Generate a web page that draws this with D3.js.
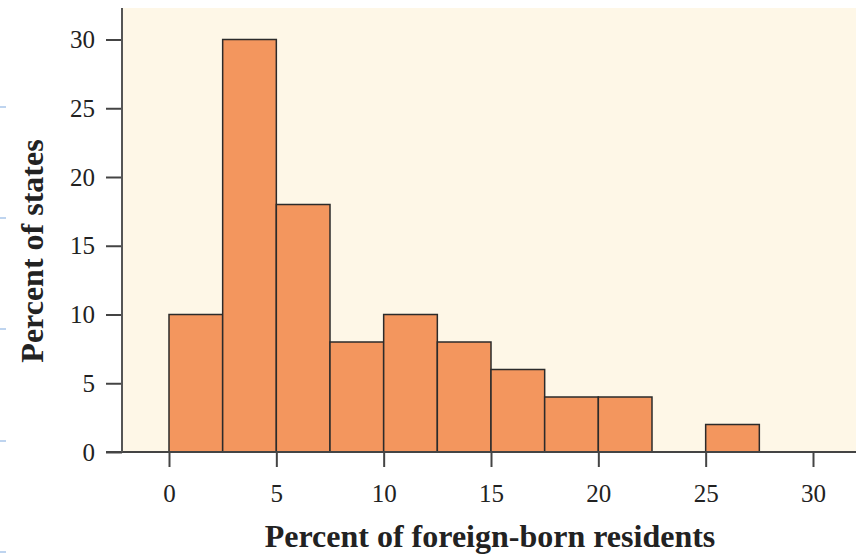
<!DOCTYPE html>
<html>
<head>
<meta charset="utf-8">
<script src="https://cdn.jsdelivr.net/npm/d3@7"></script>
<style>
  body { margin: 0; background: #fff; }
  text { font-family: "Liberation Serif", "DejaVu Serif", serif; fill: #222; }
</style>
</head>
<body>
<svg id="chart" width="856" height="559"></svg>
<script>
let width = 856,
  height = 559,
  margin = {left: 122, top: 8, right: 0, bottom: 107}

// histogram bins (percent of foreign-born residents) and percent of states
var binStarts = [0, 2.5, 5, 7.5, 10, 12.5, 15, 17.5, 20, 22.5, 25]
var binWidth = 2.5
var percents = [10, 30, 18, 8, 10, 8, 6, 4, 4, 0, 2]
var xTicks = [0, 5, 10, 15, 20, 25, 30]
var yTicks = [0, 5, 10, 15, 20, 25, 30]
var sideMarks = [107, 218, 329, 441, 552]

let svg = d3.select("#chart")

let x = d3.scaleLinear()
  .domain([0, 30])
  .range([169, 813])
let y = d3.scaleLinear()
  .domain([0, 30])
  .range([452, 39.5])

// panel background
svg.append("rect")
  .attr("x", margin.left)
  .attr("y", margin.top)
  .attr("width", width - margin.left)
  .attr("height", y(0) - margin.top)
  .attr("fill", "#fef7e7")

// bars
svg.append("g")
  .selectAll("rect")
  .data(binStarts.map((b, i) => ({x0: b, x1: b + binWidth, v: percents[i]})).filter(d => d.v > 0))
  .enter()
  .append("rect")
  .attr("x", d => x(d.x0))
  .attr("y", d => y(d.v))
  .attr("width", d => x(d.x1) - x(d.x0))
  .attr("height", d => y(0) - y(d.v))
  .attr("fill", "#f3965e")
  .attr("stroke", "#2b2b2b")
  .attr("stroke-width", 1.5)

// axes
let xAxis = svg.append("g")
  .attr("transform", `translate(0,${y(0)})`)
  .call(d3.axisBottom(x).tickValues(xTicks).tickSize(15).tickPadding(17).tickFormat(d3.format("d")))
let yAxis = svg.append("g")
  .attr("transform", `translate(${margin.left},0)`)
  .call(d3.axisLeft(y).tickValues(yTicks).tickSize(16).tickPadding(11).tickFormat(d3.format("d")))

xAxis.select(".domain").remove()
yAxis.select(".domain").remove()
svg.append("line")
  .attr("x1", 106).attr("x2", width)
  .attr("y1", y(0)).attr("y2", y(0))
  .attr("stroke", "#444").attr("stroke-width", 2)
svg.append("line")
  .attr("x1", margin.left).attr("x2", margin.left)
  .attr("y1", margin.top).attr("y2", y(0))
  .attr("stroke", "#555").attr("stroke-width", 2)

svg.selectAll(".tick line").attr("stroke", "#444").attr("stroke-width", 2)
svg.selectAll(".tick text")
  .style("font-family", "'Liberation Serif', serif")
  .style("font-size", "25px")
  .attr("fill", "#222")

// axis titles
svg.append("text")
  .attr("x", 490)
  .attr("y", 547)
  .attr("text-anchor", "middle")
  .style("font-size", "32px")
  .style("font-weight", "bold")
  .text("Percent of foreign-born residents")

svg.append("text")
  .attr("transform", "translate(43,251) rotate(-90)")
  .attr("text-anchor", "middle")
  .style("font-size", "32px")
  .style("font-weight", "bold")
  .text("Percent of states")

// small blue marks at the left edge
svg.append("g")
  .selectAll("line")
  .data(sideMarks)
  .enter()
  .append("line")
  .attr("x1", 0).attr("x2", 6)
  .attr("y1", d => d).attr("y2", d => d)
  .attr("stroke", "#a9c6ea").attr("stroke-width", 1.5)
</script>
</body>
</html>
